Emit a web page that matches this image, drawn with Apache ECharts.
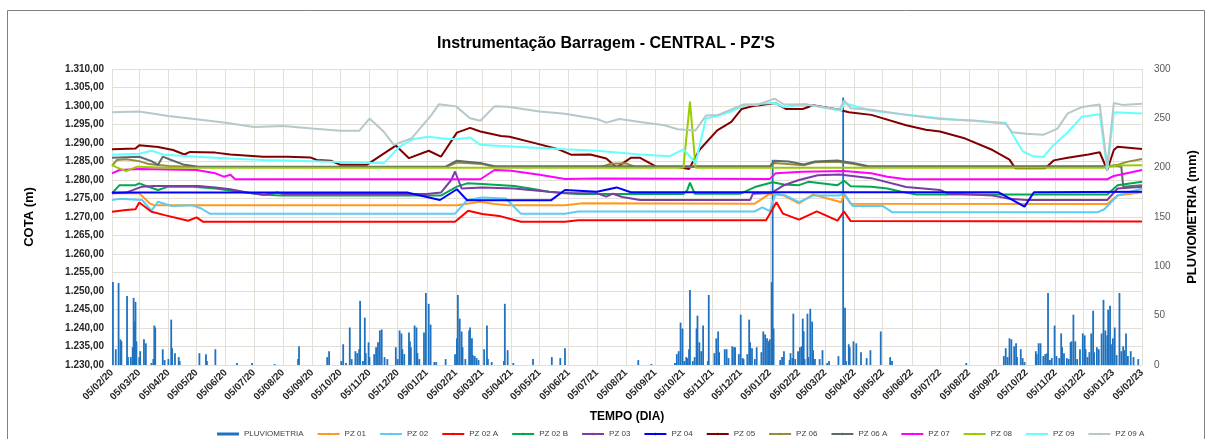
<!DOCTYPE html>
<html>
<head>
<meta charset="utf-8">
<script src="https://cdn.jsdelivr.net/npm/echarts@6/dist/echarts.min.js"></script>
<style>
  html, body { margin: 0; padding: 0; background: #fff; }
  #chart { width: 1212px; height: 439px; }
</style>
</head>
<body>
<div id="chart"></div>
<script>
// leituras diárias de chuva (mm) - eixo da direita
const rainReadings = [
  ['2020-02-06',84],['2020-02-09',16],['2020-02-12',83],['2020-02-14',26],['2020-02-15',24],['2020-02-21',70],['2020-02-22',8],['2020-02-25',8],['2020-02-27',18],['2020-02-28',68],['2020-02-29',44],['2020-03-01',64],['2020-03-02',24],['2020-03-05',8],['2020-03-06',14],['2020-03-10',26],['2020-03-12',22],['2020-03-18',2],['2020-03-20',6],['2020-03-21',40],['2020-03-22',38],['2020-03-30',16],['2020-04-01',5],['2020-04-05',6],['2020-04-08',46],['2020-04-09',17],['2020-04-12',12],['2020-04-16',8],['2020-04-17',4],['2020-05-08',12],['2020-05-15',11],['2020-05-16',4],['2020-05-25',16],['2020-06-17',2],['2020-07-03',2],['2020-07-27',1],['2020-08-21',6],['2020-08-22',19],['2020-09-21',8],['2020-09-23',14],
  ['2020-10-06',4],['2020-10-08',21],['2020-10-11',2],['2020-10-15',38],['2020-10-17',6],['2020-10-21',14],['2020-10-23',12],['2020-10-25',16],['2020-10-26',65],['2020-10-29',4],['2020-10-31',48],['2020-11-01',12],['2020-11-04',23],['2020-11-05',8],['2020-11-10',11],['2020-11-12',18],['2020-11-14',23],['2020-11-16',35],['2020-11-18',36],['2020-11-21',8],['2020-11-24',6],['2020-12-03',18],['2020-12-05',6],['2020-12-07',35],['2020-12-09',32],['2020-12-10',16],['2020-12-12',11],['2020-12-17',33],['2020-12-18',24],['2020-12-19',18],['2020-12-23',40],['2020-12-25',38],['2020-12-26',12],['2020-12-28',6],
  ['2021-01-02',33],['2021-01-04',73],['2021-01-07',62],['2021-01-09',41],['2021-01-13',3],['2021-01-15',3],['2021-01-25',6],['2021-02-04',11],['2021-02-06',27],['2021-02-07',71],['2021-02-09',47],['2021-02-11',34],['2021-02-12',18],['2021-02-15',6],['2021-02-19',35],['2021-02-20',38],['2021-02-22',27],['2021-02-23',10],['2021-02-25',9],['2021-02-27',7],['2021-03-01',5],['2021-03-07',16],['2021-03-10',40],['2021-03-11',6],['2021-03-15',3],['2021-03-28',4],['2021-03-29',62],['2021-04-01',15],['2021-04-07',2],['2021-04-28',6],['2021-05-18',8],['2021-05-27',7],['2021-06-01',17],['2021-08-18',5],['2021-09-01',1],
  ['2021-09-26',2],['2021-09-28',11],['2021-09-30',14],['2021-10-02',43],['2021-10-04',37],['2021-10-06',4],['2021-10-08',8],['2021-10-09',7],['2021-10-11',16],['2021-10-12',76],['2021-10-15',4],['2021-10-17',8],['2021-10-19',37],['2021-10-20',50],['2021-10-22',23],['2021-10-24',14],['2021-10-26',40],['2021-10-31',4],['2021-11-01',71],['2021-11-07',12],['2021-11-09',27],['2021-11-11',34],['2021-11-12',13],['2021-11-18',16],['2021-11-20',16],['2021-11-22',7],['2021-11-26',19],['2021-11-28',18],['2021-11-29',18],['2021-12-03',11],['2021-12-05',51],['2021-12-07',7],['2021-12-08',6],['2021-12-12',11],['2021-12-14',46],['2021-12-15',23],['2021-12-17',17],['2021-12-20',6],['2021-12-22',18],['2021-12-27',13],['2021-12-29',34],['2021-12-31',31],
  ['2022-01-02',27],['2022-01-04',24],['2022-01-05',26],['2022-01-07',84],['2022-01-08',208],['2022-01-09',37],['2022-01-16',5],['2022-01-18',8],['2022-01-20',14],['2022-01-26',5],['2022-01-27',12],['2022-01-29',7],['2022-01-30',52],['2022-02-01',6],['2022-02-04',14],['2022-02-06',18],['2022-02-08',19],['2022-02-09',47],['2022-02-10',34],['2022-02-11',6],['2022-02-14',52],['2022-02-15',8],['2022-02-17',57],['2022-02-19',44],['2022-02-20',15],['2022-02-22',6],['2022-02-27',6],['2022-03-02',15],['2022-03-07',2],['2022-03-09',4],['2022-03-19',9],['2022-03-24',271],['2022-03-26',58],['2022-03-27',4],['2022-03-30',21],['2022-03-31',18],['2022-04-04',24],['2022-04-07',22],['2022-04-12',13],['2022-04-18',7],['2022-04-22',15],['2022-05-03',34],['2022-05-13',8],['2022-05-15',4],['2022-08-02',2],
  ['2022-09-11',9],['2022-09-13',17],['2022-09-15',8],['2022-09-17',27],['2022-09-19',26],['2022-09-22',19],['2022-09-24',22],['2022-09-25',8],['2022-09-29',16],['2022-10-01',7],['2022-10-03',3],['2022-10-15',14],['2022-10-16',11],['2022-10-18',22],['2022-10-20',22],['2022-10-23',9],['2022-10-25',11],['2022-10-27',12],['2022-10-28',73],['2022-10-30',5],['2022-11-01',7],['2022-11-04',40],['2022-11-06',9],['2022-11-09',7],['2022-11-11',32],['2022-11-12',18],['2022-11-14',12],['2022-11-17',7],['2022-11-19',6],['2022-11-21',23],['2022-11-22',24],['2022-11-24',51],['2022-11-26',24],['2022-11-28',6],['2022-12-01',16],['2022-12-04',32],['2022-12-06',30],['2022-12-07',16],['2022-12-09',8],['2022-12-11',13],['2022-12-13',32],['2022-12-15',55],['2022-12-16',13],['2022-12-19',18],['2022-12-21',16],['2022-12-24',32],['2022-12-26',66],['2022-12-28',35],['2022-12-30',30],['2022-12-31',56],
  ['2023-01-02',60],['2023-01-03',21],['2023-01-05',27],['2023-01-07',38],['2023-01-09',10],['2023-01-12',73],['2023-01-14',14],['2023-01-16',19],['2023-01-17',15],['2023-01-19',32],['2023-01-21',9],['2023-01-24',14],['2023-01-27',8],['2023-02-01',6]
]

// cotas piezométricas (m)
const pz01 = [['2020-02-05',1276.4],['2020-03-05',1276.4],['2020-03-16',1273.7],['2020-03-21',1273.2],['2021-02-07',1273.2],['2021-02-20',1273.7],['2021-03-03',1274.1],['2021-03-18',1273.5],['2021-04-01',1273.2],['2021-06-01',1273.2],['2021-06-20',1273.7],['2021-12-20',1273.6],['2022-01-05',1276.3],['2022-01-20',1275.8],['2022-02-05',1273.7],['2022-02-20',1276.1],['2022-03-22',1274],['2022-03-25',1276.1],['2022-04-01',1273.6],['2022-12-30',1273.5],['2023-01-10',1275.8],['2023-02-05',1276.7]]
const pz02 = [['2020-02-05',1274.6],['2020-02-13',1274.9],['2020-03-08',1274.6],['2020-03-18',1271.7],['2020-03-25',1274.1],['2020-04-08',1273],['2020-04-30',1273.2],['2020-05-10',1272.3],['2020-05-19',1270.9],['2021-02-04',1270.9],['2021-02-17',1274.6],['2021-03-05',1275.3],['2021-03-30',1275],['2021-04-15',1270.9],['2021-06-01',1270.9],['2021-06-15',1271.5],['2021-12-20',1271.5],['2021-12-28',1272.6],['2022-01-05',1271.6],['2022-01-11',1276.3],['2022-01-22',1275.8],['2022-02-05',1274],['2022-02-20',1275.8],['2022-03-20',1275.8],['2022-03-25',1276.3],['2022-04-03',1273],['2022-05-05',1273],['2022-05-15',1271.3],['2022-12-20',1271.3],['2022-12-27',1272.1],['2023-01-10',1275.8],['2023-02-05',1277.7]]
const pz02a = [['2020-02-05',1271.4],['2020-02-20',1271.9],['2020-03-01',1272.1],['2020-03-05',1273.9],['2020-03-18',1271.4],['2020-04-01',1270.5],['2020-04-26',1269],['2020-05-05',1269.9],['2020-05-12',1268.7],['2021-02-04',1268.7],['2021-02-18',1271.7],['2021-03-05',1270.8],['2021-03-23',1270.3],['2021-04-15',1268.7],['2021-06-01',1268.7],['2021-06-15',1269.1],['2022-01-01',1269.1],['2022-01-12',1274],['2022-01-19',1270.9],['2022-02-05',1269.3],['2022-02-24',1271.5],['2022-03-18',1269],['2022-03-25',1271.5],['2022-04-01',1268.9],['2023-02-05',1268.8]]
const pz02b = [['2020-02-05',1276.4],['2020-02-13',1278.6],['2020-03-01',1278.6],['2020-03-05',1279.1],['2020-03-10',1278.6],['2020-03-25',1277.3],['2020-04-05',1278.2],['2020-05-01',1278.2],['2020-05-25',1277.7],['2020-06-20',1276.8],['2020-07-15',1276],['2020-08-05',1275.8],['2021-01-20',1275.8],['2021-02-06',1278.2],['2021-02-17',1279.1],['2021-03-05',1278.9],['2021-04-08',1278.4],['2021-04-25',1277.7],['2021-05-15',1276.8],['2021-06-15',1276.2],['2021-10-05',1276.2],['2021-10-09',1277.2],['2021-10-12',1279.3],['2021-10-17',1276.3],['2021-12-05',1276.3],['2021-12-20',1278.1],['2022-01-08',1279.4],['2022-01-20',1278.8],['2022-02-05',1278.6],['2022-02-15',1279.5],['2022-03-18',1278.6],['2022-03-25',1279.8],['2022-04-01',1278.3],['2022-04-23',1278.2],['2022-05-10',1277.7],['2022-05-25',1276.8],['2022-06-10',1276.1],['2022-12-30',1276.1],['2023-01-10',1278.6],['2023-02-05',1279.5]]
const pz03 = [['2020-02-05',1276.4],['2020-02-20',1276.6],['2020-03-08',1278.2],['2020-03-20',1278.4],['2020-05-07',1278.4],['2020-05-25',1278],['2020-06-10',1277.5],['2020-06-28',1276.6],['2020-07-15',1276],['2020-07-30',1276.6],['2020-08-05',1276.2],['2021-01-05',1276.2],['2021-01-20',1276.6],['2021-01-31',1280],['2021-02-04',1282.3],['2021-02-11',1277.7],['2021-03-05',1278],['2021-04-08',1277.7],['2021-04-25',1277.3],['2021-05-15',1276.8],['2021-06-01',1276.4],['2021-07-05',1276.4],['2021-07-15',1275.5],['2021-07-22',1276.3],['2021-08-01',1275.4],['2021-08-20',1274.6],['2021-12-15',1274.6],['2021-12-18',1276.3],['2022-01-07',1276.5],['2022-01-20',1278.6],['2022-02-05',1280],['2022-02-25',1281.3],['2022-03-20',1281.5],['2022-04-23',1280.5],['2022-05-30',1278.1],['2022-07-05',1277.3],['2022-07-15',1276.2],['2022-07-22',1276.3],['2022-08-30',1275.8],['2022-09-17',1274.9],['2022-10-05',1274.6],['2022-12-30',1274.6],['2023-01-10',1277.7],['2023-02-05',1278.2]]
const pz04 = [['2020-02-05',1276.6],['2020-12-15',1276.6],['2021-01-19',1274.6],['2021-02-06',1277.5],['2021-02-17',1274.5],['2021-05-17',1274.5],['2021-06-01',1277.3],['2021-07-05',1276.8],['2021-07-26',1278],['2021-08-10',1276.7],['2022-09-05',1276.7],['2022-10-03',1272.8],['2022-10-13',1276.7],['2023-02-05',1276.8]]
const pz05 = [['2020-02-05',1288.3],['2020-03-01',1288.5],['2020-03-05',1289.4],['2020-03-25',1288.9],['2020-04-10',1288.1],['2020-04-22',1286.9],['2020-04-28',1287.6],['2020-05-25',1287.4],['2020-06-10',1286.9],['2020-07-15',1286.3],['2020-08-10',1286.3],['2020-09-03',1286.1],['2020-09-10',1285.4],['2020-09-25',1285.2],['2020-10-05',1284.1],['2020-11-02',1284.1],['2020-12-03',1289.3],['2020-12-17',1285.9],['2021-01-07',1287.9],['2021-01-20',1286.3],['2021-02-06',1292.8],['2021-02-20',1294.1],['2021-03-03',1293.1],['2021-03-25',1291.9],['2021-04-03',1291.7],['2021-04-28',1290.1],['2021-05-25',1288.3],['2021-06-08',1286.8],['2021-06-28',1286.9],['2021-07-15',1285.8],['2021-07-26',1283.4],['2021-08-10',1286],['2021-08-20',1286],['2021-09-07',1283.5],['2021-09-29',1283.5],['2021-10-11',1283],['2021-10-22',1288.1],['2021-11-10',1293.4],['2021-11-25',1295.7],['2021-12-06',1299.2],['2021-12-17',1299.9],['2022-01-11',1300.8],['2022-01-22',1299.2],['2022-02-09',1299.2],['2022-02-20',1300.2],['2022-03-20',1299],['2022-03-30',1298.3],['2022-04-23',1297.6],['2022-05-30',1294.8],['2022-06-20',1293.6],['2022-07-05',1293.1],['2022-08-01',1291.2],['2022-08-30',1288.1],['2022-09-17',1285.5],['2022-09-23',1283.2],['2022-10-25',1283.2],['2022-11-03',1285.3],['2022-11-18',1286],['2022-12-10',1286.9],['2022-12-22',1287.5],['2022-12-30',1282.7],['2023-01-06',1288.1],['2023-01-10',1289],['2023-02-05',1288.4]]
const pz06 = [['2020-02-05',1283.8],['2020-02-10',1285.4],['2020-02-20',1285.6],['2020-03-05',1285.1],['2020-03-15',1284.3],['2020-04-05',1283.8],['2020-05-05',1283.5],['2021-01-25',1283.5],['2021-02-06',1284.7],['2021-03-05',1284.3],['2021-03-18',1283.5],['2021-07-10',1283.6],['2021-07-20',1284.4],['2021-08-05',1284.5],['2021-08-15',1283.5],['2022-01-05',1283.5],['2022-01-10',1284.6],['2022-02-10',1284],['2022-02-22',1284.8],['2022-03-18',1284.9],['2022-04-05',1284.3],['2022-04-20',1283.5],['2022-12-25',1283.5],['2023-01-10',1284.1],['2023-01-20',1284.9],['2023-02-05',1285.7]]
const pz06a = [['2020-02-05',1286],['2020-03-05',1286.3],['2020-03-18',1285.1],['2020-03-25',1284.1],['2020-03-30',1286.3],['2020-04-08',1285.4],['2020-04-22',1284.1],['2020-05-07',1283.6],['2021-01-25',1283.6],['2021-02-06',1285.2],['2021-03-05',1284.5],['2021-03-18',1283.7],['2022-01-05',1283.7],['2022-01-10',1285.2],['2022-01-25',1285],['2022-02-10',1284.2],['2022-02-22',1285],['2022-03-18',1285.3],['2022-04-05',1284.5],['2022-04-20',1283.7],['2023-01-10',1283.7],['2023-01-14',1283.6],['2023-01-16',1278.2],['2023-02-05',1278.6]]
const pz07 = [['2020-02-05',1281.8],['2020-02-13',1282.7],['2020-03-05',1283],['2020-05-05',1282.7],['2020-05-25',1281.8],['2020-06-03',1280.9],['2020-06-10',1281.4],['2020-06-15',1280.2],['2021-03-03',1280.2],['2021-03-18',1282.7],['2021-04-05',1282.5],['2021-05-05',1281.4],['2021-06-01',1280.3],['2021-07-05',1280.4],['2022-01-05',1280.3],['2022-01-11',1281.8],['2022-02-09',1282.2],['2022-03-25',1282.4],['2022-04-23',1281.8],['2022-05-10',1280.9],['2022-05-30',1280.2],['2022-12-30',1280.2],['2023-01-06',1281.1],['2023-02-05',1282.7]]
const pz08 = [['2020-02-05',1284],['2020-02-10',1283.4],['2020-02-20',1282.4],['2020-03-03',1283.6],['2020-04-05',1283.3],['2021-10-05',1283.3],['2021-10-12',1301.2],['2021-10-18',1283.3],['2022-12-25',1283.3],['2023-01-10',1283.9],['2023-02-05',1284]]
const pz09 = [['2020-02-05',1286.8],['2020-03-05',1287.1],['2020-03-18',1287.9],['2020-04-01',1286.8],['2020-05-05',1286.3],['2020-06-10',1285.8],['2020-07-15',1285.4],['2020-08-20',1285.2],['2020-09-25',1284.9],['2020-10-20',1284.7],['2020-11-20',1284.5],['2020-12-07',1289],['2020-12-22',1291.1],['2021-01-07',1291.7],['2021-01-20',1291.3],['2021-02-05',1291],['2021-02-20',1291.5],['2021-03-03',1289.5],['2021-03-25',1289.2],['2021-04-25',1288.8],['2021-06-01',1288.3],['2021-07-05',1287.9],['2021-08-20',1286.9],['2021-09-20',1286.4],['2021-10-05',1288.3],['2021-10-18',1284.6],['2021-10-29',1296.6],['2021-11-10',1297.3],['2021-11-25',1298.5],['2021-12-10',1300.4],['2022-01-10',1300.8],['2022-01-20',1299.7],['2022-02-12',1300.4],['2022-03-22',1298.7],['2022-03-25',1300.8],['2022-04-23',1298.7],['2022-06-20',1297.1],['2022-07-25',1296.2],['2022-09-13',1295.5],['2022-10-01',1287.8],['2022-10-12',1286.4],['2022-10-23',1286.2],['2022-11-02',1289.2],['2022-11-18',1292.9],['2022-12-03',1297.1],['2022-12-22',1297.8],['2022-12-30',1282.7],['2023-01-06',1298.3],['2023-02-05',1298]]
const pz09a = [['2020-02-05',1298.3],['2020-03-05',1298.5],['2020-04-05',1297.3],['2020-05-05',1296.4],['2020-06-05',1295.5],['2020-07-05',1294.3],['2020-08-05',1294.6],['2020-09-05',1293.9],['2020-10-05',1293.3],['2020-10-25',1293.3],['2020-11-05',1296.6],['2020-11-20',1293.1],['2020-12-01',1289.5],['2020-12-20',1291.3],['2021-01-10',1297.6],['2021-01-18',1300.5],['2021-02-05',1299.9],['2021-02-20',1296.7],['2021-03-03',1296],['2021-03-18',1299.9],['2021-04-01',1299.8],['2021-05-05',1298.5],['2021-06-01',1297.9],['2021-06-20',1297.1],['2021-07-05',1296.5],['2021-07-15',1295.5],['2021-07-29',1296.5],['2021-08-20',1295.7],['2021-09-15',1294.8],['2021-09-29',1293.7],['2021-10-18',1293.4],['2021-10-29',1297.4],['2021-11-11',1297.6],['2021-12-08',1300.4],['2021-12-22',1300.2],['2022-01-10',1302],['2022-01-20',1300.4],['2022-02-12',1300.5],['2022-02-26',1299.9],['2022-03-20',1299],['2022-03-25',1301.5],['2022-04-01',1299.4],['2022-04-23',1299],['2022-05-30',1297.6],['2022-07-05',1296.5],['2022-08-10',1296.1],['2022-09-13',1295.2],['2022-09-20',1292.9],['2022-10-05',1292.5],['2022-10-23',1292.2],['2022-11-07',1293.9],['2022-11-18',1298],['2022-12-03',1299.7],['2022-12-22',1300.4],['2022-12-30',1283.6],['2023-01-06',1300.8],['2023-01-15',1300.3],['2023-02-05',1300.6]]

const lineNames = ['PZ 01', 'PZ 02', 'PZ 02 A', 'PZ 02 B', 'PZ 03', 'PZ 04', 'PZ 05', 'PZ 06', 'PZ 06 A', 'PZ 07', 'PZ 08', 'PZ 09', 'PZ 09 A']
const lineReadings = [pz01, pz02, pz02a, pz02b, pz03, pz04, pz05, pz06, pz06a, pz07, pz08, pz09, pz09a]
const lineColors = ['#FF9A1F', '#5CCBF5', '#FF0000', '#00A84F', '#7A3DA6', '#0000FF', '#800000', '#958B3A', '#5E6B6A', '#FF00FF', '#99CC00', '#66FFFF', '#B5C8CA']

// categorias diárias 05/02/2020 -> 05/02/2023
const days = []
for (let t = Date.UTC(2020, 1, 5); t <= Date.UTC(2023, 1, 5); t += 86400000) {
  days.push(new Date(t).toISOString().slice(0, 10))
}
const dayIndex = {}
days.forEach((d, i) => { dayIndex[d] = i })

// coloca cada leitura no seu dia, o resto fica vazio
const toDaily = (readings) => {
  const arr = new Array(days.length).fill(null)
  readings.forEach(([d, v]) => { arr[dayIndex[d]] = v })
  return arr
}

const isMonthTick = (i, v) => v.slice(8) === '05'
const fmtCota = (v) => {
  const [a, b] = v.toFixed(2).split('.')
  return a.replace(/\B(?=(\d{3})+(?!\d))/g, '.') + ',' + b
}
const fmtDay = (v) => v.slice(8, 10) + '/' + v.slice(5, 7) + '/' + v.slice(2, 4)

const chart = echarts.init(document.getElementById('chart'))

const series = [{
  name: 'PLUVIOMETRIA',
  type: 'bar',
  yAxisIndex: 1,
  barWidth: 1.8,
  itemStyle: { color: '#1F72C0' },
  data: toDaily(rainReadings)
}]
lineNames.forEach((name, k) => {
  series.push({
    name,
    type: 'line',
    yAxisIndex: 0,
    symbol: 'none',
    connectNulls: true,
    lineStyle: { width: 2, color: lineColors[k] },
    itemStyle: { color: lineColors[k] },
    data: toDaily(lineReadings[k])
  })
})

chart.setOption({
  animation: false,
  textStyle: { fontFamily: 'Liberation Sans, Arial, sans-serif' },
  title: {
    text: "Instrumentação Barragem - CENTRAL - PZ'S",
    left: 'center',
    top: 31,
    textStyle: { fontSize: 16, fontWeight: 'bold', color: '#000' }
  },
  legend: {
    left: 212,
    top: 425,
    itemWidth: 22,
    itemHeight: 3,
    itemGap: 13,
    textStyle: { fontSize: 8, color: '#404040' },
    data: [{ name: 'PLUVIOMETRIA', icon: 'rect' }].concat(lineNames.map(n => ({ name: n })))
  },
  graphic: [{
    type: 'rect',
    shape: { x: 7.5, y: 10.5, width: 1197, height: 440 },
    style: { fill: 'none', stroke: '#808080', lineWidth: 1 },
    silent: true
  }],
  grid: { left: 112, right: 70, top: 69, bottom: 74 },
  xAxis: {
    type: 'category',
    data: days,
    boundaryGap: false,
    name: 'TEMPO (DIA)',
    nameLocation: 'middle',
    nameGap: 46,
    nameTextStyle: { fontSize: 12, fontWeight: 'bold', color: '#000' },
    axisLine: { lineStyle: { color: '#e2dfd8' } },
    axisTick: { show: false },
    axisLabel: {
      interval: isMonthTick,
      rotate: 45,
      fontSize: 10,
      fontWeight: 'bold',
      color: '#262626',
      margin: 6,
      formatter: fmtDay
    },
    splitLine: { show: true, interval: isMonthTick, lineStyle: { color: '#e2dfd8', width: 1 } }
  },
  yAxis: [{
    type: 'value',
    min: 1230,
    max: 1310,
    interval: 5,
    name: 'COTA (m)',
    nameLocation: 'middle',
    nameRotate: 90,
    nameGap: 76,
    nameTextStyle: { fontSize: 13, fontWeight: 'bold', color: '#000' },
    axisLine: { show: false },
    axisTick: { show: false },
    axisLabel: { fontSize: 10, fontWeight: 'bold', color: '#262626', margin: 8, formatter: fmtCota },
    splitLine: { lineStyle: { color: '#e2dfd8', width: 1 } }
  }, {
    type: 'value',
    min: 0,
    max: 300,
    interval: 50,
    name: 'PLUVIOMETRIA (mm)',
    nameLocation: 'middle',
    nameRotate: 90,
    nameGap: 44,
    nameTextStyle: { fontSize: 13, fontWeight: 'bold', color: '#000' },
    axisLine: { show: false },
    axisTick: { show: false },
    axisLabel: { fontSize: 10, color: '#595959', margin: 12 },
    splitLine: { show: false }
  }],
  series
})
</script>
</body>
</html>
